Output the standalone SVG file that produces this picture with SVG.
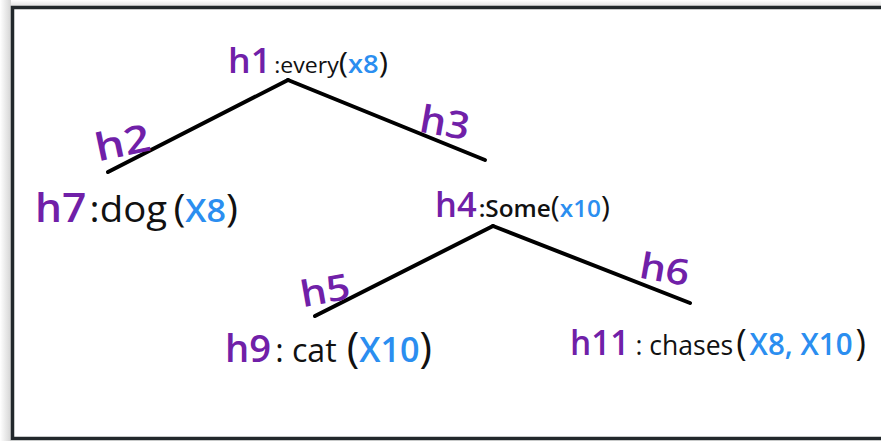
<svg xmlns="http://www.w3.org/2000/svg" width="881" height="441" viewBox="0 0 881 441">
  <defs>
    <linearGradient id="shL" x1="0" y1="0" x2="1" y2="0">
      <stop offset="0" stop-color="#ffffff"/>
      <stop offset="1" stop-color="#d4d4d4"/>
    </linearGradient>
    <linearGradient id="shT" x1="0" y1="0" x2="0" y2="1">
      <stop offset="0" stop-color="#ffffff"/>
      <stop offset="1" stop-color="#e2e2e2"/>
    </linearGradient>
  </defs>
  <style>
    text { font-family: "Open Sans", "DejaVu Sans", sans-serif; fill: #111111; }
    .h { fill: #7020a8; font-weight: 600; }
    .k { fill: #111111; }
    .b { fill: #2b8ef0; font-weight: 600; }
    .edge { stroke: #000000; stroke-width: 4; stroke-linecap: round; fill: none; }
  </style>
  <rect x="0" y="0" width="881" height="441" fill="#ffffff"/>
  <rect x="0" y="0" width="11" height="441" fill="url(#shL)"/>
  <rect x="11" y="0" width="870" height="6" fill="url(#shT)"/>
  <rect x="12.5" y="7.5" width="880" height="431" fill="#ffffff" stroke="#22282b" stroke-width="3.5"/>

  <g id="connectors">
    <line class="edge" x1="288" y1="80" x2="108" y2="172"/>
    <line class="edge" x1="288" y1="80" x2="485" y2="160"/>
    <line class="edge" x1="493" y1="226" x2="315" y2="316"/>
    <line class="edge" x1="493" y1="226" x2="690" y2="303"/>
    <text class="h" x="95" y="156" font-size="38" textLength="56" lengthAdjust="spacingAndGlyphs" transform="rotate(-12 123 145)">h2</text>
    <text class="h" x="420" y="136" font-size="38" textLength="50" lengthAdjust="spacingAndGlyphs" transform="rotate(10 445 122)">h3</text>
    <text class="h" x="300" y="303" font-size="36" textLength="50" lengthAdjust="spacingAndGlyphs" transform="rotate(-10 325 290)">h5</text>
    <text class="h" x="640" y="282" font-size="36" textLength="50" lengthAdjust="spacingAndGlyphs" transform="rotate(10 665 268)">h6</text>
  </g>

  <g id="h1">
    <text x="228" y="73" textLength="160" lengthAdjust="spacingAndGlyphs"><tspan class="h" font-size="34">h1</tspan><tspan class="k" font-size="22" dx="3">:every</tspan><tspan class="k" font-size="30">(</tspan><tspan class="b" font-size="26">x8</tspan><tspan class="k" font-size="30">)</tspan></text>
  </g>

  <g id="h7">
    <text x="35" y="222" textLength="203" lengthAdjust="spacingAndGlyphs"><tspan class="h" font-size="40">h7</tspan><tspan class="k" font-size="36" dx="3">:dog</tspan><tspan class="k" font-size="38" dx="6">(</tspan><tspan class="b" font-size="32">X8</tspan><tspan class="k" font-size="38">)</tspan></text>
  </g>

  <g id="h4">
    <text x="435" y="217" textLength="175" lengthAdjust="spacingAndGlyphs"><tspan class="h" font-size="34">h4</tspan><tspan class="k" font-size="24" font-weight="600" dx="2">:Some</tspan><tspan class="k" font-size="30">(</tspan><tspan class="b" font-size="24">x10</tspan><tspan class="k" font-size="30">)</tspan></text>
  </g>

  <g id="h9">
    <text x="225" y="362" textLength="207" lengthAdjust="spacingAndGlyphs"><tspan class="h" font-size="38">h9</tspan><tspan class="k" font-size="32" dx="4">: cat</tspan><tspan class="k" font-size="42" dx="10">(</tspan><tspan class="b" font-size="34">X10</tspan><tspan class="k" font-size="42">)</tspan></text>
  </g>

  <g id="h11">
    <text x="570" y="355" textLength="296" lengthAdjust="spacingAndGlyphs"><tspan class="h" font-size="34">h11</tspan><tspan class="k" font-size="27" dx="6">: chases</tspan><tspan class="k" font-size="36" dx="3">(</tspan><tspan class="b" font-size="30" dx="3">X8, X10</tspan><tspan class="k" font-size="36" dx="3">)</tspan></text>
  </g>
</svg>
